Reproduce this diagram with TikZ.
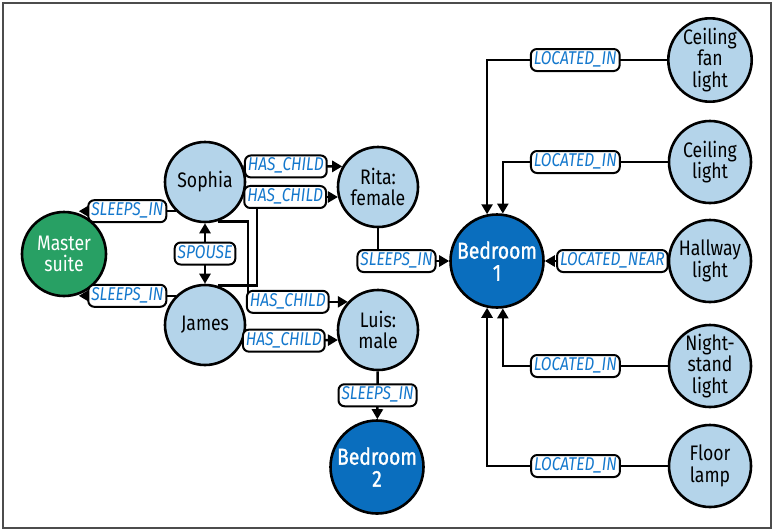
\documentclass[tikz,border=0pt]{standalone}
\usepackage{fontspec}
\setmainfont{Fira Sans}[FakeStretch=0.84]
\usetikzlibrary{arrows.meta}
\definecolor{thingfill}{RGB}{180,212,234}
\definecolor{roomblue}{RGB}{10,110,190}
\definecolor{suitegreen}{RGB}{40,160,100}
\definecolor{tagblue}{RGB}{20,120,205}

\begin{document}
\begin{tikzpicture}[x=1pt,y=-1pt,
       thing/.style={circle,draw,line width=2.6pt,black,fill=thingfill,text=black,
      minimum size=80pt,inner sep=0pt,align=center,font=\fontsize{21}{21.5}\selectfont},
        lamp/.style={thing,minimum size=82pt},
        suite/.style={thing,minimum size=84pt,fill=suitegreen,text=white},
        room/.style={thing,minimum size=93pt,fill=roomblue,text=white,
      font=\fontsize{23}{22}\selectfont\addfontfeatures{FakeBold=1.2}},
        rel/.style={line width=2.5pt,black,-{Triangle[length=10pt,width=11pt]}},
        twoway/.style={rel,{Triangle[length=10pt,width=11pt]}-{Triangle[length=10pt,width=11pt]}},
        tag/.style={draw,line width=2pt,black,fill=white,rounded corners=6pt,
      inner xsep=3pt,inner ysep=3pt,text height=12.5pt,text depth=3.5pt,text=tagblue,
      font=\fontsize{18.5}{18.5}\selectfont\itshape}]

	\useasboundingbox (0,0) rectangle (773,531);
	\draw [black!70,line width=1.2pt] (3,3) rectangle (771,528);

	\node [suite] (master) at (64,254)  {Master\\suite};
        \node [thing] (sophia) at (205,182)  {Sophia};
        \node [thing] (james)  at (205,325)  {James};
        \node [thing] (rita)   at (378,187)  {Rita:\\female};
        \node [thing] (luis)   at (378,330)  {Luis:\\male};
        \node [room]  (bed1)   at (497,261)  {Bedroom\\1};
        \node [room]  (bed2)   at (377,467)  {Bedroom\\2};
        \node [lamp]  (fan)    at (710,60)   {Ceiling\\fan\\light};
        \node [lamp]  (ceil)   at (710,162)  {Ceiling\\light};
        \node [lamp]  (hall)   at (710,261)  {Hallway\\light};
        \node [lamp]  (night)  at (710,366)  {Night-\\stand\\light};
	\node [lamp]  (floor)  at (710,466)  {Floor\\lamp};

        \draw [rel] (sophia.south west) -- (sophia.south west -| master.70) node [tag,midway] {SLEEPS\_IN};
        \draw [rel] (james.north west) -- (james.north west -| master.290) node [tag,midway] {SLEEPS\_IN};
        \draw [twoway] (sophia) -- (james) node [tag,midway] {SPOUSE};
        \draw [rel] (sophia.22) -- (rita.150) node [tag,pos=0.43] {HAS\_CHILD};
        \draw [rel] (james.72) -- ++(39,0) |- (rita.194) node [tag,pos=0.675] {HAS\_CHILD};
        \draw [rel] (sophia.-72) -- ++(30,0) |- (luis.137) node [tag,pos=0.7] {HAS\_CHILD};
        \draw [rel] (james.-23) -- (luis.194) node [tag,pos=0.43] {HAS\_CHILD};
        \draw [rel] (rita) |- (bed1) node [tag,pos=0.63] {SLEEPS\_IN};
        \draw [rel] (luis) -- (bed2) node [tag,midway] {SLEEPS\_IN};
        \draw [rel] (fan) -| (bed1.102) node [tag,pos=0.255] {LOCATED\_IN};
        \draw [rel] (ceil) -| (bed1.83) node [tag,pos=0.28] {LOCATED\_IN};
        \draw [rel] (hall) -- (bed1) node [tag,pos=0.45] {LOCATED\_NEAR};
        \draw [rel] (night) -| (bed1.-83) node [tag,pos=0.28] {LOCATED\_IN};
        \draw [rel] (floor) -| (bed1.-102) node [tag,pos=0.255] {LOCATED\_IN};
\end{tikzpicture}
\end{document}
